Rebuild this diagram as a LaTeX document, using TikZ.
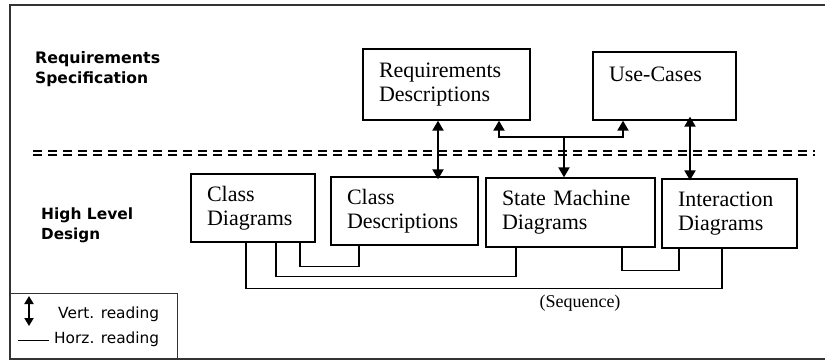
\documentclass[tikz,border=0pt]{standalone}
\usepackage{graphicx}
\usepackage{fontspec}
\setmainfont{Liberation Serif}
\newfontfamily\lblfont{DejaVu Sans}
\newcommand\sectlbl[2]{\resizebox{#1pt}{!}{\lblfont\bfseries #2}}
\newcommand\leglbl[2]{\resizebox{#1pt}{!}{\lblfont #2}}
\usetikzlibrary{arrows.meta}
\tikzset{
  box/.style={draw, line width=1.3pt, align=left, inner xsep=16pt, inner ysep=2pt,
    font=\fontsize{22}{24}\selectfont},
  varrow/.style={line width=2pt, {Triangle[length=10pt,width=11pt]}-{Triangle[length=10pt,width=11pt]}},
  harrow/.style={line width=2pt, -{Triangle[length=10pt,width=11pt]}},
  hline/.style={line width=1.2pt},
  sect/.style={inner sep=0pt, anchor=base west},
  leg/.style={inner sep=0pt, anchor=base west},
  sep/.style={line width=2pt, dash pattern=on 9pt off 6pt}
}
\begin{document}
\begin{tikzpicture}[x=1pt,y=-1pt]
\useasboundingbox (0,0) rectangle (825,360);
% frame
\draw[line width=1.2pt, black!80] (826,5) -- (10,5) -- (10,359) -- (826,359);
% separator
\draw[sep] (33,150.5) -- (815,150.5);
\draw[sep] (33,155) -- (815,155);
% section labels
\node[sect] (rs1) at (35,63) {\sectlbl{125}{Requirements}};
\node[sect] (rs2) at (35,83) {\sectlbl{113}{Specification}};
\node[sect] (hl1) at (41,219) {\sectlbl{92}{High Level}};
\node[sect] (hl2) at (41,239) {\sectlbl{59}{Design}};
% boxes
\node[box, minimum width=167pt, minimum height=71pt, text width=135pt] (rd) at (446.5,84.5) {Requirements\\Descriptions};
\node[box, minimum width=143pt, minimum height=68pt, text width=111pt] (uc) at (664.5,86) {Use-Cases\\\mbox{}};
\node[box, minimum width=124pt, minimum height=68pt, text width=92pt] (cd) at (253,208) {Class\\Diagrams};
\node[box, minimum width=147pt, minimum height=68pt, text width=115pt] (cdesc) at (404.5,211) {Class\\Descriptions};
\node[box, minimum width=169pt, minimum height=69pt, text width=137pt] (sm) at (570.5,212.5) {State Machine\\Diagrams};
\node[box, minimum width=135pt, minimum height=69pt, text width=103pt] (id) at (729.5,213.5) {Interaction\\Diagrams};
% vertical reading arrows
\draw[varrow] (rd.south -| 438,0) -- ([yshift=-3pt]cdesc.north -| 438,0);
\coordinate (j) at (564,137);
\draw[varrow] (rd.south -| 499,0) |- (j) -| (uc.south -| 623,0);
\draw[harrow] (j) -- (sm.north -| j);
\draw[varrow] ([yshift=4pt]uc.south -| 690,0) -- ([yshift=-2pt]id.north -| 690,0);
% horizontal reading lines
\draw[hline] (cd.south -| 300,0) -- ++(0,24) -| (cdesc.south -| 359,0);
\draw[hline] (cd.south -| 276,0) -- ++(0,34) -| (sm.south -| 516,0);
\draw[hline] (cd.south -| 246,0) -- ++(0,46) -| (id.south -| 722,0);
\draw[hline] (sm.south -| 622,0) -- ++(0,23) -| (id.south -| 679,0);
\node[font=\fontsize{18}{20}\selectfont, inner sep=0pt, anchor=base] (seq) at (580,307) {(Sequence)};
% legend
\node[draw, line width=1.2pt, black!80, minimum width=167pt, minimum height=66pt, anchor=north west, inner sep=0pt] (legend) at (10,293) {};
\coordinate (la1) at (29,296);
\coordinate (la2) at (29,326);
\draw[line width=1.8pt, {Triangle[length=8pt,width=9pt]}-{Triangle[length=8pt,width=9pt]}] (la1) -- (la2);
\node[leg] (vr) at (58,318) {\leglbl{101}{Vert. reading}};
\node[leg] (hr) at (54,343) {\leglbl{105}{Horz. reading}};
\coordinate (ll1) at (18,340);
\coordinate (ll2) at (49,340);
\draw[line width=1pt] (ll1) -- (ll2);
\end{tikzpicture}
\end{document}
